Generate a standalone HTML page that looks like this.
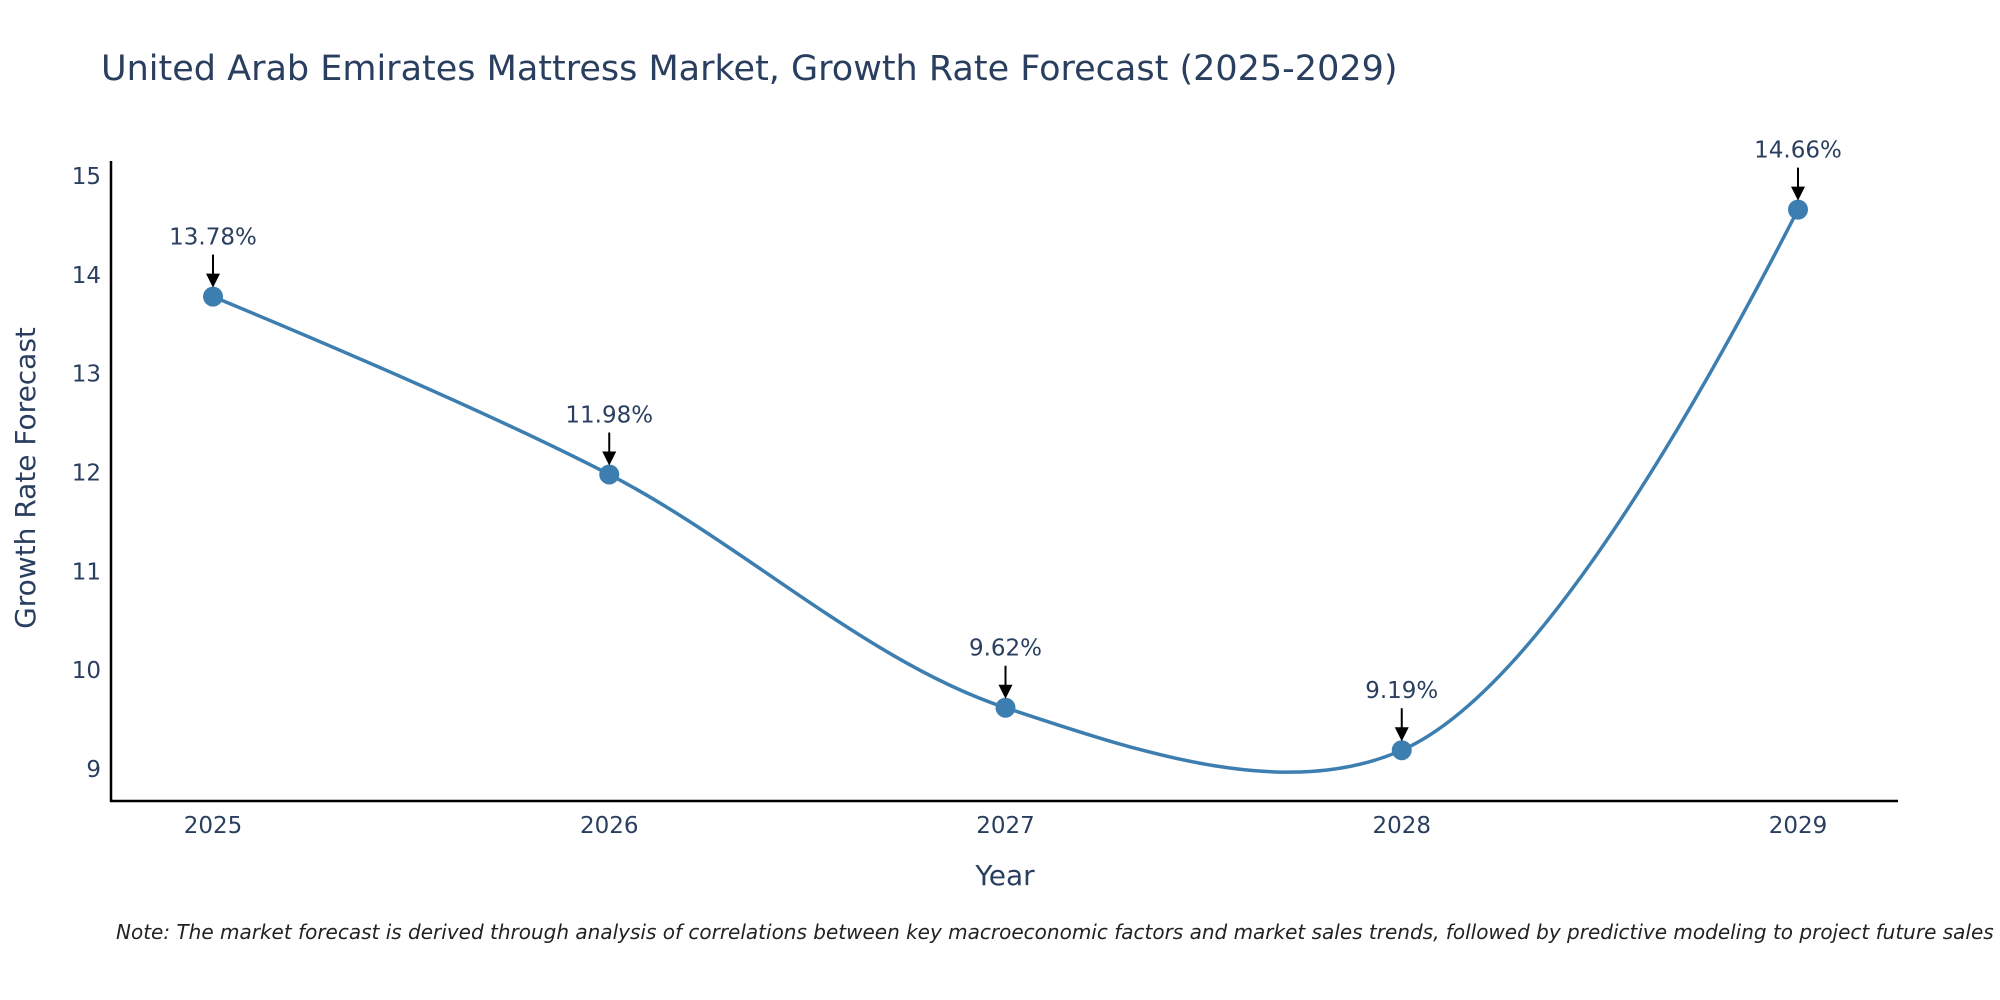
<!DOCTYPE html>
<html><head><meta charset="utf-8">
<style>
html,body{margin:0;padding:0;background:#fff;}
svg{display:block;font-family:"DejaVu Sans","Liberation Sans",sans-serif;}
</style></head>
<body>
<svg id="chart" width="2000" height="1000" viewBox="0 0 2000 1000" xmlns="http://www.w3.org/2000/svg">
<text x="101" y="80" font-size="35" fill="#2a3f5f">United Arab Emirates Mattress Market, Growth Rate Forecast (2025-2029)</text>
<g id="plot"></g>
<text transform="translate(35,478) rotate(-90)" text-anchor="middle" font-size="28" fill="#2a3f5f">Growth Rate Forecast</text>
<text x="1005" y="885" text-anchor="middle" font-size="28" fill="#2a3f5f">Year</text>
<text x="116" y="939" font-size="20" font-style="italic" fill="#222">Note: The market forecast is derived through analysis of correlations between key macroeconomic factors and market sales trends, followed by predictive modeling to project future sales</text>
</svg>
<script>
const years = [2025, 2026, 2027, 2028, 2029];
const growth = [13.78, 11.98, 9.62, 9.19, 14.66];
const labels = ["13.78%", "11.98%", "9.62%", "9.19%", "14.66%"];
const yTicks = [9, 10, 11, 12, 13, 14, 15];

const NS = "http://www.w3.org/2000/svg";
const g = document.getElementById('plot');
function xS(v){ return 213 + (v - 2025) * 396.25; }
function yS(v){ return 769 - (v - 9) * 98.83; }
function mk(tag, attrs, parent){ const e=document.createElementNS(NS,tag); for(const k in attrs) e.setAttribute(k,attrs[k]); (parent||g).appendChild(e); return e; }

let ax = mk('line',{x1:111,y1:161,x2:111,y2:802,stroke:'#000','stroke-width':2.5});


let bx = mk('line',{x1:110,y1:801,x2:1898,y2:801,stroke:'#000','stroke-width':2.5});



yTicks.forEach(t=>{
  const e = mk('text',{x:101,y:yS(t)+8,'text-anchor':'end','font-size':23,fill:'#2a3f5f'});
  e.textContent = t;
  
  
});
years.forEach(yr=>{
  const e = mk('text',{x:xS(yr),y:833,'text-anchor':'middle','font-size':23,fill:'#2a3f5f'});
  e.textContent = yr;
  
  
});

const pts = years.map((yr,i)=>[xS(yr), yS(growth[i])]);
function tangent(p,t,n,s){
  const d1x=p[0]-t[0], d1y=p[1]-t[1], d2x=n[0]-t[0], d2y=n[1]-t[1];
  const d1a=Math.pow(d1x*d1x+d1y*d1y,0.25), d2a=Math.pow(d2x*d2x+d2y*d2y,0.25);
  const nx=(d2a*d2a*d1x-d1a*d1a*d2x)*s, ny=(d2a*d2a*d1y-d1a*d1a*d2y)*s;
  const den1=3*d2a*(d1a+d2a), den2=3*d1a*(d1a+d2a);
  return [[t[0]+nx/den1,t[1]+ny/den1],[t[0]-nx/den2,t[1]-ny/den2]];
}
const tans=[];
for(let i=1;i<pts.length-1;i++) tans.push(tangent(pts[i-1],pts[i],pts[i+1],1));
let d = 'M'+pts[0]+' Q'+tans[0][0]+' '+pts[1];
for(let i=2;i<pts.length-1;i++) d += ' C'+tans[i-2][1]+' '+tans[i-1][0]+' '+pts[i];
d += ' Q'+tans[tans.length-1][1]+' '+pts[pts.length-1];
const line = mk('path',{d:d,fill:'none',stroke:'#3d7eb0','stroke-width':3.5});



pts.forEach((p,i)=>{
  const c = mk('circle',{cx:p[0],cy:p[1],r:10,fill:'#3d7eb0'});
  
  
  const a = mk('line',{x1:p[0],y1:p[1]-42,x2:p[0],y2:p[1]-22,stroke:'#000','stroke-width':2});
  
  
  const h = mk('polygon',{points:(p[0]-7)+','+(p[1]-23)+' '+(p[0]+7)+','+(p[1]-23)+' '+p[0]+','+(p[1]-9),fill:'#000'});
  
  
  const t = mk('text',{x:p[0],y:p[1]-52,'text-anchor':'middle','font-size':23,fill:'#2a3f5f'});
  t.textContent = labels[i];
  
  
});
</script>
</body></html>
